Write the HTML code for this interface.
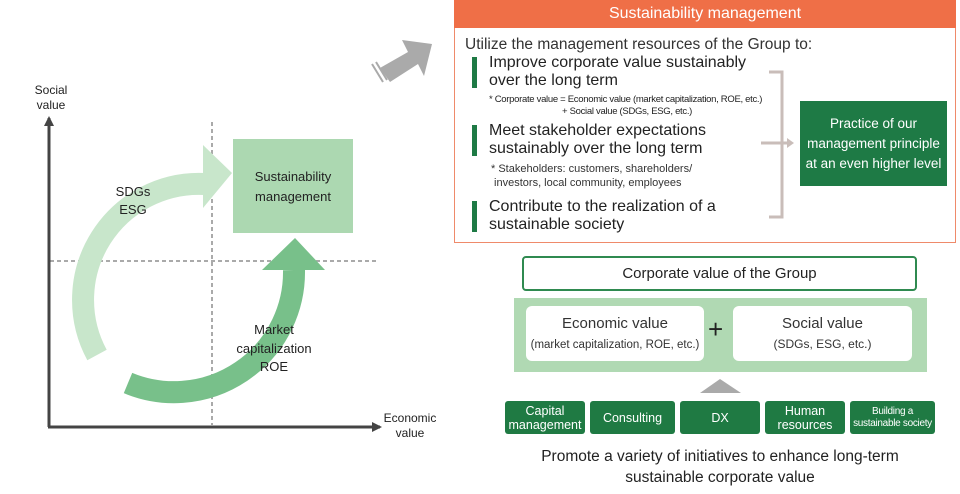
<!DOCTYPE html>
<html><head><meta charset="utf-8"><style>
body{margin:0;width:960px;height:494px;background:#fff;position:relative;overflow:hidden;font-family:"Liberation Sans",sans-serif;color:#222}
.a{position:absolute}
.bar{position:absolute;left:472px;width:5px;background:#1e7a45}
.t{position:absolute;left:489px;font-size:16px;line-height:18px;color:#222}
.g{position:absolute;top:401px;height:33px;background:#1f7a43;color:#fff;border-radius:3px;display:flex;align-items:center;justify-content:center;text-align:center;font-size:12.5px;line-height:14px}
</style></head><body>
<svg class="a" style="left:0;top:0" width="460" height="494">
<defs>
<marker id="ah" markerUnits="userSpaceOnUse" markerWidth="10" markerHeight="10" refX="8" refY="5" orient="auto"><path d="M0,0 L10,5 L0,10z" fill="#444"/></marker>
</defs>
<line x1="212" y1="122" x2="212" y2="425" stroke="#aaa" stroke-width="2" stroke-dasharray="4,3"/>
<line x1="50" y1="261" x2="378" y2="261" stroke="#aaa" stroke-width="2" stroke-dasharray="4,3"/>
<rect x="233" y="139" width="120" height="94" fill="#acd8b1"/>
<path d="M97,355 A116,116 0 0 1 205,184" fill="none" stroke="#c8e6cb" stroke-width="22"/>
<polygon points="203,145 232,173 203,208" fill="#c8e6cb"/>
<path d="M128,383 A120,120 0 0 0 294,270" fill="none" stroke="#78c08a" stroke-width="22"/>
<polygon points="262,270 295,238 325,270" fill="#78c08a"/>
<line x1="49" y1="427" x2="49" y2="118" stroke="#444" stroke-width="3" marker-end="url(#ah)"/>
<line x1="48" y1="427" x2="380" y2="427" stroke="#444" stroke-width="3" marker-end="url(#ah)"/>
<polygon points="380,68 408,52 402,40 432,44 424,76 418,64 390,82" fill="#aaa"/>
<line x1="372" y1="64" x2="383" y2="82" stroke="#aaa" stroke-width="2"/>
<line x1="376" y1="62" x2="387" y2="80" stroke="#aaa" stroke-width="2"/>
<text font-size="12" text-anchor="middle" fill="#222"><tspan x="51" y="94">Social</tspan><tspan x="51" y="109">value</tspan></text>
<text font-size="12" text-anchor="middle" fill="#222"><tspan x="410" y="422">Economic</tspan><tspan x="410" y="437">value</tspan></text>
<text font-size="13" text-anchor="middle" fill="#222"><tspan x="293" y="181">Sustainability</tspan><tspan x="293" y="201">management</tspan></text>
<text font-size="13" text-anchor="middle" fill="#222"><tspan x="133" y="196">SDGs</tspan><tspan x="133" y="214">ESG</tspan></text>
<text font-size="13" text-anchor="middle" fill="#222"><tspan x="274" y="334">Market</tspan><tspan x="274" y="353">capitalization</tspan><tspan x="274" y="371">ROE</tspan></text>
</svg>
<div class="a" style="left:454px;top:0;width:500px;height:241px;border:1px solid #ef8a6a"></div>
<div class="a" style="left:454px;top:0;width:502px;height:28px;background:#ef6f47;color:#fff;font-size:16px;line-height:28px;text-align:center">Sustainability management</div>
<div class="a" style="left:465px;top:36px;font-size:15.5px;color:#333">Utilize the management resources of the Group to:</div>
<div class="bar" style="top:57px;height:31px"></div>
<div class="t" style="top:54px">Improve corporate value sustainably<br>over the long term</div>
<div class="a" style="left:489px;top:94px;font-size:9.5px;line-height:12px;letter-spacing:-0.3px">* Corporate value = Economic value (market capitalization, ROE, etc.)<br><span style="padding-left:73px">+ Social value (SDGs, ESG, etc.)</span></div>
<div class="bar" style="top:125px;height:31px"></div>
<div class="t" style="top:122px">Meet stakeholder expectations<br>sustainably over the long term</div>
<div class="a" style="left:491px;top:162px;font-size:11px;line-height:14px;color:#333">* Stakeholders: customers, shareholders/<br>&nbsp;investors, local community, employees</div>
<div class="bar" style="top:201px;height:31px"></div>
<div class="t" style="top:198px">Contribute to the realization of a<br>sustainable society</div>
<svg class="a" style="left:755px;top:65px" width="45" height="160"><path d="M14,7 H27 V152 H14" fill="none" stroke="#c9bdb9" stroke-width="3"/><line x1="6" y1="78" x2="33" y2="78" stroke="#c9bdb9" stroke-width="3"/><polygon points="32,73 39,78 32,83" fill="#c9bdb9"/></svg>
<div class="a" style="left:800px;top:101px;width:147px;height:85px;background:#1e7a45;color:#fff;font-size:13.5px;line-height:20px;display:flex;align-items:center;justify-content:center;text-align:center">Practice of our<br>management principle<br>at an even higher level</div>
<div class="a" style="left:522px;top:256px;width:391px;height:31px;border:2px solid #2f8a50;border-radius:4px;font-size:15px;line-height:31px;text-align:center">Corporate value of the Group</div>
<div class="a" style="left:514px;top:298px;width:413px;height:74px;background:#b0d9b3"></div>
<div class="a" style="left:526px;top:306px;width:178px;height:55px;background:#fff;border-radius:6px;text-align:center;font-size:15px;line-height:20px;padding-top:8px;box-sizing:border-box;color:#333">Economic value<br><span style="font-size:11.5px">(market capitalization, ROE, etc.)</span></div>
<div class="a" style="left:733px;top:306px;width:179px;height:55px;background:#fff;border-radius:6px;text-align:center;font-size:15px;line-height:20px;padding-top:8px;box-sizing:border-box;color:#333">Social value<br><span style="font-size:12px">(SDGs, ESG, etc.)</span></div>
<div class="a" style="left:708px;top:314px;font-size:26px;line-height:30px">+</div>
<svg class="a" style="left:700px;top:378px" width="42" height="16"><polygon points="0,15 20,1 41,15" fill="#aaa"/></svg>
<div class="g" style="left:505px;width:80px">Capital<br>management</div>
<div class="g" style="left:590px;width:85px">Consulting</div>
<div class="g" style="left:680px;width:80px">DX</div>
<div class="g" style="left:765px;width:80px">Human<br>resources</div>
<div class="g" style="left:850px;width:85px;font-size:10px;letter-spacing:-0.3px;line-height:12px">Building a<br>sustainable society</div>
<div class="a" style="left:490px;top:446px;width:460px;text-align:center;font-size:15.5px;line-height:21px">Promote a variety of initiatives to enhance long-term<br>sustainable corporate value</div>
</body></html>
